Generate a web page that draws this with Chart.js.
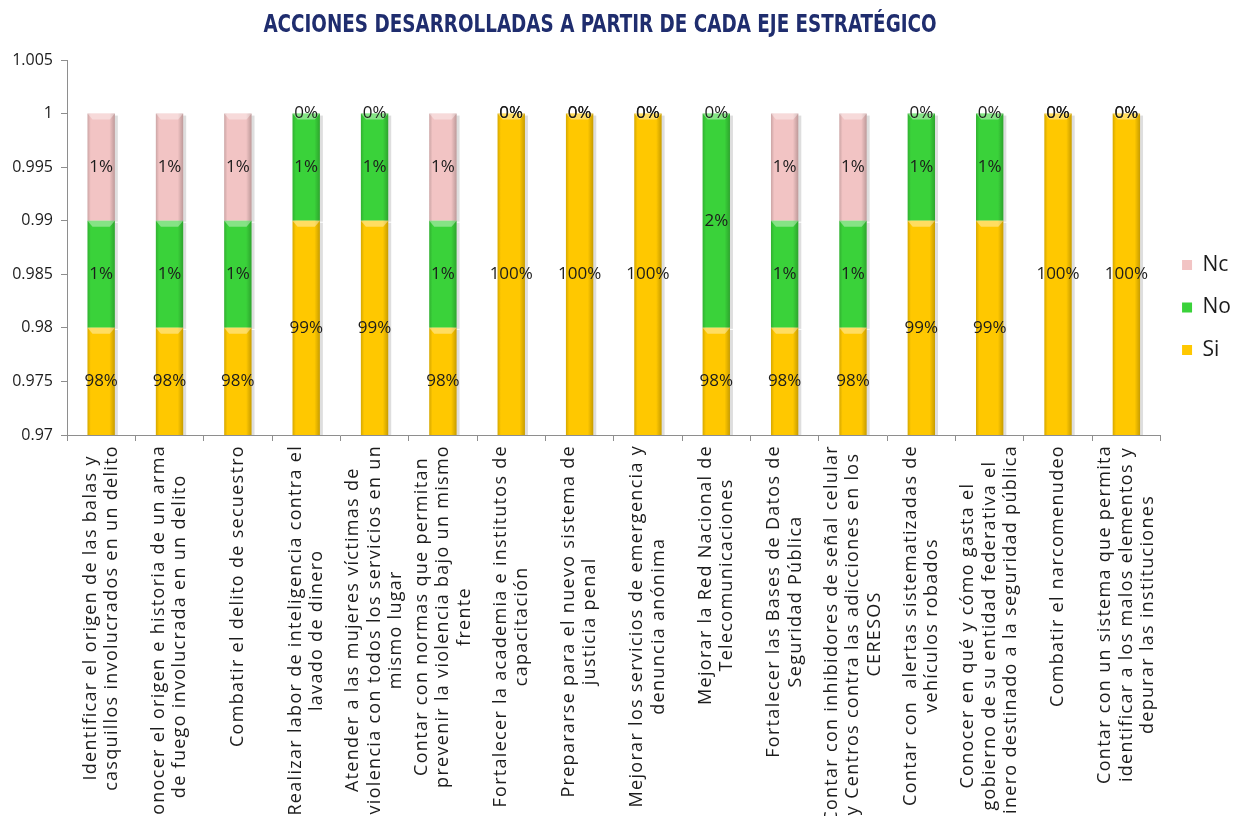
<!DOCTYPE html>
<html>
<head>
<meta charset="utf-8">
<title>Acciones desarrolladas a partir de cada eje estratégico</title>
<script src="https://cdn.jsdelivr.net/npm/chart.js@4/dist/chart.umd.min.js"></script>
<style>
  html, body { margin: 0; padding: 0; background: #fff; overflow: hidden; width: 1234px; height: 816px; }
  canvas { display: block; }
</style>
</head>
<body>
<canvas id="chart" width="1241" height="816"></canvas>
<script>
// Category labels, one array of lines per strategic action
const categories = [
  ["Identificar el origen de las balas y", "casquillos involucrados en un delito"],
  ["Conocer el origen e historia de un arma", "de fuego involucrada en un delito"],
  ["Combatir el delito de secuestro"],
  ["Realizar labor de inteligencia contra el", "lavado de dinero"],
  ["Atender a las mujeres víctimas de", "violencia con todos los servicios en un", "mismo lugar"],
  ["Contar con normas que permitan", "prevenir la violencia bajo un mismo", "frente"],
  ["Fortalecer la academia e institutos de", "capacitación"],
  ["Prepararse para el nuevo sistema de", "justicia penal"],
  ["Mejorar los servicios de emergencia y", "denuncia anónima"],
  ["Mejorar la Red Nacional de", "Telecomunicaciones"],
  ["Fortalecer las Bases de Datos de", "Seguridad Pública"],
  ["Contar con inhibidores de señal celular", "y Centros contra las adicciones en los", "CERESOS"],
  ["Contar con  alertas sistematizadas de", "vehículos robados"],
  ["Conocer en qué y cómo gasta el", "gobierno de su entidad federativa el", "dinero destinado a la seguridad pública"],
  ["Combatir el narcomenudeo"],
  ["Contar con un sistema que permita", "identificar a los malos elementos y", "depurar las instituciones"]
];

// Share of answers per action
const si = [0.98, 0.98, 0.98, 0.99, 0.99, 0.98, 1.00, 1.00, 1.00, 0.98, 0.98, 0.98, 0.99, 0.99, 1.00, 1.00];
const no = [0.01, 0.01, 0.01, 0.01, 0.01, 0.01, 0.00, 0.00, 0.00, 0.02, 0.01, 0.01, 0.01, 0.01, 0.00, 0.00];
const nc = [0.01, 0.01, 0.01, 0.00, 0.00, 0.01, 0.00, 0.00, 0.00, 0.00, 0.01, 0.01, 0.00, 0.00, 0.00, 0.00];

// Value axis ticks
const yTicks = [0.97, 0.975, 0.98, 0.985, 0.99, 0.995, 1, 1.005];

const chartTitle = 'ACCIONES DESARROLLADAS A PARTIR DE CADA EJE ESTRATÉGICO';

const TEXT = '#1c1c1c';
const AXIS = '#8e8e8e';
const FONT = '"Open Sans", "DejaVu Sans", sans-serif';

// Condensed bold heading above the plot
const heading = {
  id: 'heading',
  afterDraw(chart) {
    const ctx = chart.ctx;
    ctx.save();
    ctx.font = 'bold 24px "DejaVu Sans Condensed", "DejaVu Sans", sans-serif';
    ctx.fillStyle = '#1F2D6E';
    ctx.textAlign = 'center';
    ctx.textBaseline = 'middle';
    ctx.translate(600, 26);
    ctx.scale(0.85, 1);
    ctx.fillText(chartTitle, 0, 0);
    ctx.restore();
  }
};

// Beveled look on each bar segment plus the percentage labels
const barDecor = {
  id: 'barDecor',
  afterDatasetsDraw(chart) {
    const ctx = chart.ctx;
    const area = chart.chartArea;
    ctx.save();
    ctx.beginPath();
    ctx.rect(area.left, area.top - 20, area.right - area.left + 10, area.bottom - area.top + 20);
    ctx.clip();
    chart.data.datasets.forEach((ds, di) => {
      const meta = chart.getDatasetMeta(di);
      meta.data.forEach((bar) => {
        const left = bar.x - bar.width / 2;
        const right = bar.x + bar.width / 2;
        const top = Math.max(Math.min(bar.y, bar.base), area.top);
        const bottom = Math.min(Math.max(bar.y, bar.base), area.bottom);
        const h = bottom - top;
        if (h <= 0.5) return;
        // soft shadow on the right side
        ctx.fillStyle = 'rgba(0,0,0,0.13)';
        ctx.fillRect(right, top + 2, 3, h - 1);
        // shading across the bar
        const g = ctx.createLinearGradient(left, 0, right, 0);
        g.addColorStop(0, 'rgba(0,0,0,0.16)');
        g.addColorStop(0.12, 'rgba(0,0,0,0.0)');
        g.addColorStop(0.8, 'rgba(0,0,0,0.0)');
        g.addColorStop(1, 'rgba(0,0,0,0.22)');
        ctx.fillStyle = g;
        ctx.fillRect(left, top, right - left, h);
        // light bevel along the top edge
        const bh = Math.min(6, h / 3);
        ctx.fillStyle = 'rgba(255,255,255,0.38)';
        ctx.beginPath();
        ctx.moveTo(left, top);
        ctx.lineTo(right, top);
        ctx.lineTo(right - 5, top + bh);
        ctx.lineTo(left + 5, top + bh);
        ctx.closePath();
        ctx.fill();
      });
    });
    ctx.restore();

    // percentage labels centred in the visible part of each segment
    ctx.save();
    ctx.font = '17px ' + FONT;
    ctx.fillStyle = TEXT;
    ctx.textAlign = 'center';
    ctx.textBaseline = 'middle';
    chart.data.datasets.forEach((ds, di) => {
      const meta = chart.getDatasetMeta(di);
      meta.data.forEach((bar, i) => {
        const top = Math.max(Math.min(bar.y, bar.base), area.top);
        const bottom = Math.min(Math.max(bar.y, bar.base), area.bottom);
        const cy = bottom > top ? (top + bottom) / 2 : top;
        ctx.fillText(Math.round(ds.data[i] * 100) + '%', bar.x, cy);
      });
    });
    ctx.restore();
  }
};

// Vertical, centred multi-line category labels under the axis
const categoryLabels = {
  id: 'categoryLabels',
  afterDraw(chart) {
    const xs = chart.scales.x;
    const ctx = chart.ctx;
    const top = chart.chartArea.bottom + 10;
    const lh = 21.5;
    ctx.save();
    ctx.font = '18px ' + FONT;
    if ('letterSpacing' in ctx) ctx.letterSpacing = '1.3px';
    ctx.fillStyle = TEXT;
    ctx.textAlign = 'center';
    ctx.textBaseline = 'middle';
    chart.data.labels.forEach((lines, i) => {
      const x = xs.getPixelForTick(i);
      const w = Math.max(...lines.map(l => ctx.measureText(l).width));
      ctx.save();
      ctx.translate(x, top + w / 2);
      ctx.rotate(-Math.PI / 2);
      lines.forEach((l, j) => ctx.fillText(l, 0, (j - (lines.length - 1) / 2) * lh));
      ctx.restore();
    });
    ctx.restore();
  }
};

new Chart(document.getElementById('chart'), {
  type: 'bar',
  data: {
    labels: categories,
    datasets: [
      { label: 'Si', data: si, backgroundColor: '#FFC800' },
      { label: 'No', data: no, backgroundColor: '#3AD23A' },
      { label: 'Nc', data: nc, backgroundColor: '#F2C4C4' }
    ]
  },
  options: {
    responsive: false,
    animation: false,
    devicePixelRatio: 1,
    layout: { padding: { top: 60, left: 0, right: 0, bottom: 0 } },
    datasets: { bar: { barPercentage: 0.4, categoryPercentage: 1 } },
    scales: {
      x: {
        stacked: true,
        offset: true,
        grid: { display: true, drawOnChartArea: false, drawTicks: true, tickLength: 6, color: AXIS, offset: true },
        border: { color: AXIS, width: 1 },
        ticks: { display: false },
        afterFit(scale) { scale.height = 381; }
      },
      y: {
        stacked: true,
        min: 0.97,
        max: 1.005,
        afterBuildTicks(scale) { scale.ticks = yTicks.map(v => ({ value: v })); },
        ticks: { callback: v => String(v), font: { family: FONT, size: 16 }, color: TEXT, padding: 8 },
        grid: { display: true, drawOnChartArea: false, drawTicks: true, tickLength: 6, color: AXIS },
        border: { color: AXIS, width: 1 },
        afterFit(scale) { scale.width = 67; }
      }
    },
    plugins: {
      title: { display: false },
      legend: {
        position: 'right',
        align: 'start',
        reverse: true,
        title: { display: true, text: '', font: { size: 12, lineHeight: 1.2 }, padding: { top: 158.6, bottom: 0 } },
        labels: { boxWidth: 10, boxHeight: 10, padding: 21.5, color: TEXT, font: { family: FONT, size: 21 } }
      },
      tooltip: { enabled: false }
    }
  },
  plugins: [barDecor, categoryLabels, heading]
});
</script>
</body>
</html>
